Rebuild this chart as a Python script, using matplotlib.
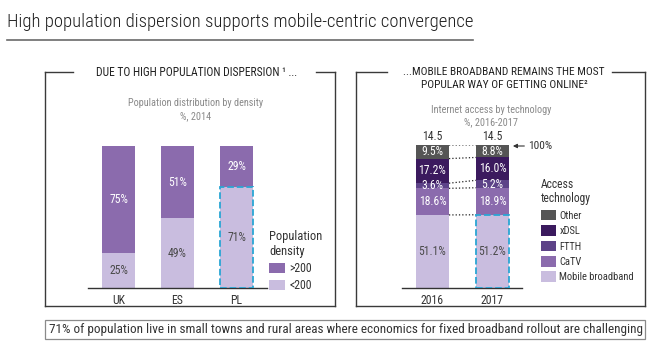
import matplotlib.pyplot as plt
from matplotlib.lines import Line2D
from matplotlib.patches import Rectangle

# ---- data ----
countries = ['UK', 'ES', 'PL']
dens_low = [25, 49, 71]       # <200
dens_high = [75, 51, 29]      # >200

years = ['2016', '2017']
totals = ['14.5', '14.5']
tech_names = ['Mobile broadband', 'CaTV', 'FTTH', 'xDSL', 'Other']
tech_values = {
    'Mobile broadband': [51.1, 51.2],
    'CaTV': [18.6, 18.9],
    'FTTH': [3.6, 5.2],
    'xDSL': [17.2, 16.0],
    'Other': [9.5, 8.8],
}

W, H = 655, 345
plt.rcParams['font.family'] = ['Roboto Condensed', 'DejaVu Sans']

C_LIGHT = '#c9bddf'
C_MID = '#8b6bad'
C_FTTH = '#5d4388'
C_XDSL = '#3b1a5e'
C_OTHER = '#555555'
C_DASH = '#2aa6d4'
tech_colors = [C_LIGHT, C_MID, C_FTTH, C_XDSL, C_OTHER]


def fx(x):
    return x / W


def fy(y):
    return 1 - y / H


def rect(x0, y0, x1, y1):
    return [x0 / W, 1 - y1 / H, (x1 - x0) / W, (y1 - y0) / H]


def hline(fig, x0, x1, y, **kw):
    fig.add_artist(Line2D([fx(x0), fx(x1)], [fy(y), fy(y)], transform=fig.transFigure, **kw))


def vline(fig, x, y0, y1, **kw):
    fig.add_artist(Line2D([fx(x), fx(x)], [fy(y0), fy(y1)], transform=fig.transFigure, **kw))


fig = plt.figure(figsize=(W / 100, H / 100), dpi=100)

# title + underline
fig.text(fx(7), fy(22), 'High population dispersion supports mobile-centric convergence',
         fontsize=13.4, color='#1e1e1e', va='center', ha='left', weight='light')
hline(fig, 7, 473, 40, color='#6a6a6a', lw=1.2)

# panel frames (top line interrupted by heading)
box_kw = dict(color='#3a3a3a', lw=1.0)
for (x0, x1, gap0, gap1) in [(45, 335, 73, 316), (356, 645, 387, 612)]:
    hline(fig, x0, gap0, 72, **box_kw)
    hline(fig, gap1, x1, 72, **box_kw)
    vline(fig, x0, 72, 306, **box_kw)
    vline(fig, x1, 72, 306, **box_kw)
    hline(fig, x0, x1, 306, **box_kw)

fig.text(fx(197), fy(72), 'DUE TO HIGH POPULATION DISPERSION \u00b9 ...', fontsize=8.3,
         color='#222222', ha='center', va='center')
fig.text(fx(504), fy(72), '...MOBILE BROADBAND REMAINS THE MOST', fontsize=8.2,
         color='#222222', ha='center', va='center')
fig.text(fx(504), fy(85), 'POPULAR WAY OF GETTING ONLINE\u00b2', fontsize=8.2,
         color='#222222', ha='center', va='center')

sub_kw = dict(fontsize=7.4, color='#8a8a8a', ha='center', va='center')
fig.text(fx(196), fy(103), 'Population distribution by density', **sub_kw)
fig.text(fx(196), fy(116), '%, 2014', **sub_kw)
fig.text(fx(491), fy(110), 'Internet access by technology', **sub_kw)
fig.text(fx(491), fy(122), '%, 2016-2017', **sub_kw)

# ---- left chart ----
ax1 = fig.add_axes(rect(88, 146, 267, 288))
xs = list(range(len(countries)))
bw1 = 0.56
b_lo = ax1.bar(xs, dens_low, width=bw1, color=C_LIGHT, label='<200')
b_hi = ax1.bar(xs, dens_high, width=bw1, bottom=dens_low, color=C_MID, label='>200')
for i in xs:
    ax1.text(i, dens_low[i] / 2, f'{dens_low[i]}%', ha='center', va='center',
             fontsize=8.5, color='#4a4a4a')
    ax1.text(i, dens_low[i] + dens_high[i] / 2, f'{dens_high[i]}%', ha='center', va='center',
             fontsize=8.5, color='white')
# highlight PL rural share
ax1.bar(xs[2], dens_low[2], width=bw1, fill=False, edgecolor=C_DASH, ls='--', lw=1.3, zorder=3)
ax1.set_xlim(-0.517, 2.517)
ax1.set_ylim(0, 100)
ax1.set_xticks(xs)
ax1.set_xticklabels(countries, fontsize=8.5, color='#333333')
ax1.set_yticks([])
ax1.tick_params(axis='x', length=0, pad=4)
for s in ['top', 'right', 'left']:
    ax1.spines[s].set_visible(False)
ax1.spines['bottom'].set_color('#333333')
ax1.spines['bottom'].set_linewidth(1.0)
leg1 = ax1.legend([b_hi, b_lo], ['>200', '<200'], title='Population\ndensity',
                  loc='upper left', bbox_to_anchor=(fx(269), fy(230)),
                  bbox_transform=fig.transFigure, frameon=False, fontsize=8.5,
                  title_fontsize=9, handlelength=1.35, handleheight=0.9,
                  handletextpad=0.4, labelspacing=0.35, borderpad=0, borderaxespad=0,
                  alignment='left')
for t in leg1.get_texts():
    t.set_color('#333333')
leg1.get_title().set_color('#333333')

# ---- right chart ----
ax2 = fig.add_axes(rect(402, 145, 522, 288))
yx = list(range(len(years)))
bw2 = 0.55
bottoms = [0.0, 0.0]
cums = []
handles = []
for name, col in zip(tech_names, tech_colors):
    vals = tech_values[name]
    bars = ax2.bar(yx, vals, width=bw2, bottom=bottoms, color=col, label=name)
    handles.append(bars)
    for i in yx:
        tc = '#4a4a4a' if name == 'Mobile broadband' else 'white'
        ax2.text(i, bottoms[i] + vals[i] / 2, f'{vals[i]:.1f}%', ha='center', va='center',
                 fontsize=8.4, color=tc, zorder=4)
    bottoms = [bottoms[i] + vals[i] for i in yx]
    cums.append(list(bottoms))
# dotted connectors between the two years
for c in cums:
    ax2.plot([bw2 / 2, 1 - bw2 / 2], [c[0], c[1]], ls=':', color='#222222', lw=0.9)
ax2.bar(yx[1], tech_values['Mobile broadband'][1], width=bw2, fill=False,
        edgecolor=C_DASH, ls='--', lw=1.3, zorder=3)
for i in yx:
    ax2.text(i, 105.6, totals[i], ha='center', va='center', fontsize=8.4, color='#333333')
ax2.annotate('100%', xy=(1.34, 99.3), xytext=(1.6, 99.3), fontsize=8.2, color='#333333',
             ha='left', va='center',
             arrowprops=dict(arrowstyle='-|>', color='#333333', lw=0.8,
                             shrinkA=1, shrinkB=0, mutation_scale=6))
ax2.set_xlim(-0.508, 1.492)
ax2.set_ylim(0, 100)
ax2.set_xticks(yx)
ax2.set_xticklabels(years, fontsize=8.5, color='#333333')
ax2.set_yticks([])
ax2.tick_params(axis='x', length=0, pad=4)
for s in ['top', 'right', 'left']:
    ax2.spines[s].set_visible(False)
ax2.spines['bottom'].set_color('#333333')
ax2.spines['bottom'].set_linewidth(1.0)
# legend title placed separately so the gap to the entries matches
fig.text(fx(541), fy(191.5), 'Access\ntechnology', fontsize=8.4, color='#333333',
         ha='left', va='center', linespacing=1.05)
leg2 = ax2.legend(handles[::-1], tech_names[::-1],
                  loc='upper left', bbox_to_anchor=(fx(541), fy(210)),
                  bbox_transform=fig.transFigure, frameon=False, fontsize=7.6,
                  handlelength=1.4, handleheight=1.15,
                  handletextpad=0.35, labelspacing=0.43, borderpad=0, borderaxespad=0)
for t in leg2.get_texts():
    t.set_color('#333333')

# ---- bottom note ----
fig.add_artist(Rectangle((fx(45), fy(339)), fx(645) - fx(45), fy(320) - fy(339),
                         transform=fig.transFigure, fill=False, edgecolor='#8a8a8a', lw=0.9))
fig.text(fx(346), fy(329.5),
         '71% of population live in small towns and rural areas where economics for fixed broadband rollout are challenging',
         fontsize=9.5, color='#333333', ha='center', va='center')

fig.savefig('out.png', dpi=100)
